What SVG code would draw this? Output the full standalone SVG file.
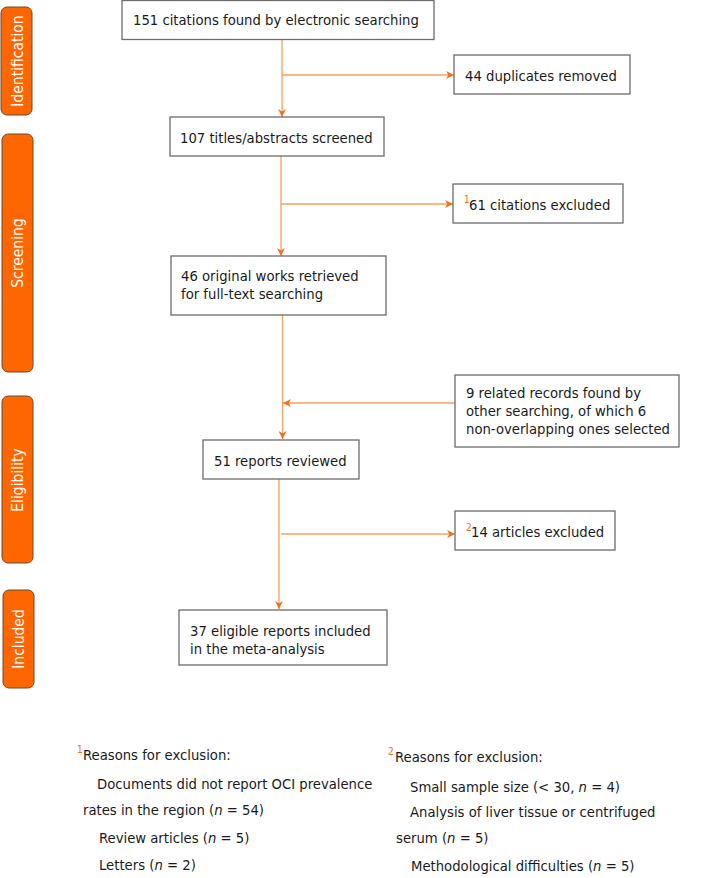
<svg xmlns="http://www.w3.org/2000/svg" width="720" height="878" viewBox="0 0 720 878">
<defs>
<style>
text{font-family:"DejaVu Sans Condensed","DejaVu Sans",sans-serif;fill:#1a1a1a;font-size:14.7px}
.box{fill:#fff;stroke:#6b6b6b;stroke-width:1.3}
.bar{fill:#ff6600;stroke:#6a4a2a;stroke-width:1}
.bt{fill:#fff;font-size:15.5px;text-anchor:middle}
.ln{stroke:#f9a05a;stroke-width:1.3;fill:none}
.sup{fill:#f07020;font-size:10px}
.fn{font-size:14.8px}
</style>
<marker id="ah" viewBox="0 0 10 10" refX="10" refY="5" markerWidth="8" markerHeight="8" markerUnits="userSpaceOnUse" orient="auto">
<path d="M0,0 L10,5 L0,10 L3,5 z" fill="#f07020"/>
</marker>
</defs>
<g id="stages">
<g id="stage-identification"><rect class="bar" x="1" y="7" width="31" height="108" rx="6"/><text class="bt" transform="translate(23,61) rotate(-90)">Identification</text></g>
<g id="stage-screening"><rect class="bar" x="2" y="134" width="31" height="238" rx="6"/><text class="bt" transform="translate(23,253) rotate(-90)">Screening</text></g>
<g id="stage-eligibility"><rect class="bar" x="2" y="396" width="31" height="167" rx="6"/><text class="bt" transform="translate(23,480) rotate(-90)">Eligibility</text></g>
<g id="stage-included"><rect class="bar" x="3" y="590" width="31" height="98" rx="6"/><text class="bt" transform="translate(24,639) rotate(-90)">Included</text></g>
</g>
<g id="connectors">
<line class="ln" x1="282" y1="40" x2="282" y2="117" marker-end="url(#ah)"/>
<line class="ln" x1="282" y1="75" x2="454" y2="75" marker-end="url(#ah)"/>
<line class="ln" x1="281" y1="156" x2="281" y2="256" marker-end="url(#ah)"/>
<line class="ln" x1="281" y1="204" x2="453" y2="204" marker-end="url(#ah)"/>
<line class="ln" x1="282.5" y1="315" x2="282.5" y2="439" marker-end="url(#ah)"/>
<line class="ln" x1="455" y1="403" x2="283" y2="403" marker-end="url(#ah)"/>
<line class="ln" x1="279" y1="479" x2="279" y2="609" marker-end="url(#ah)"/>
<line class="ln" x1="281" y1="534" x2="455" y2="534" marker-end="url(#ah)"/>
</g>
<g id="n1"><rect class="box" x="122" y="0.5" width="312" height="39"/><text x="133" y="25">151 citations found by electronic searching</text></g>
<g id="n2"><rect class="box" x="454" y="55" width="176" height="39"/><text x="465" y="81">44 duplicates removed</text></g>
<g id="n3"><rect class="box" x="170" y="117" width="214" height="39"/><text x="180" y="143">107 titles/abstracts screened</text></g>
<g id="n4"><rect class="box" x="453" y="184" width="170" height="39"/><text x="464" y="203" class="sup">1</text><text x="469" y="210">61 citations excluded</text></g>
<g id="n5"><rect class="box" x="171" y="256" width="215" height="59"/><text x="181" y="281">46 original works retrieved</text><text x="181" y="299">for full-text searching</text></g>
<g id="n6"><rect class="box" x="455" y="375" width="224" height="72"/><text x="466" y="398">9 related records found by</text><text x="466" y="416">other searching, of which 6</text><text x="466" y="434">non-overlapping ones selected</text></g>
<g id="n7"><rect class="box" x="203" y="440" width="156" height="39"/><text x="214" y="466">51 reports reviewed</text></g>
<g id="n8"><rect class="box" x="455" y="511" width="160" height="39"/><text x="466" y="531" class="sup">2</text><text x="471" y="537">14 articles excluded</text></g>
<g id="n9"><rect class="box" x="179" y="610" width="208" height="55"/><text x="190" y="636">37 eligible reports included</text><text x="190" y="654">in the meta-analysis</text></g>
<g id="footnote1" class="fn">
<text x="77" y="753" class="sup">1</text>
<text x="83" y="760">Reasons for exclusion:</text>
<text x="97" y="789">Documents did not report OCI prevalence</text>
<text x="83" y="815">rates in the region (<tspan font-style="italic">n</tspan> = 54)</text>
<text x="99" y="843">Review articles (<tspan font-style="italic">n</tspan> = 5)</text>
<text x="99" y="870">Letters (<tspan font-style="italic">n</tspan> = 2)</text>
</g>
<g id="footnote2" class="fn">
<text x="388" y="755" class="sup">2</text>
<text x="395" y="762">Reasons for exclusion:</text>
<text x="410" y="792">Small sample size (&lt; 30, <tspan font-style="italic">n</tspan>  = 4)</text>
<text x="410" y="817">Analysis of liver tissue or centrifuged</text>
<text x="396" y="843">serum (<tspan font-style="italic">n</tspan> = 5)</text>
<text x="411" y="871">Methodological difficulties (<tspan font-style="italic">n</tspan> = 5)</text>
</g>
</svg>
